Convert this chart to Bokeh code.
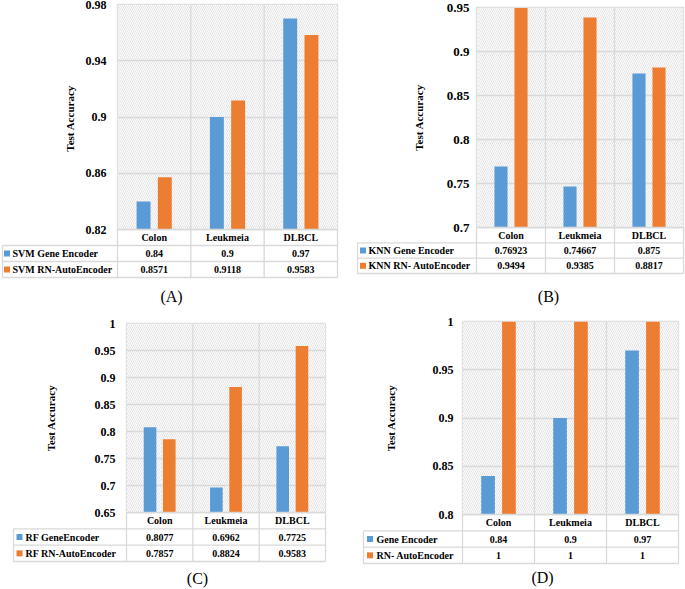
from bokeh.plotting import figure
from bokeh.models import (Range1d, CustomJSTickFormatter, Span,
                          BoxAnnotation, ColumnDataSource)
from bokeh.layouts import row, column
from bokeh.embed import file_html
from bokeh.resources import INLINE
from bokeh.core.properties import value

# ---------------- data ----------------
categories = ["Colon", "Leukmeia", "DLBCL"]

svm_names = ["SVM Gene Encoder", "SVM RN-AutoEncoder"]
svm_gene = [0.84, 0.9, 0.97]
svm_rn = [0.8571, 0.9118, 0.9583]
svm_ticks = [0.82, 0.86, 0.9, 0.94, 0.98]

knn_names = ["KNN Gene Encoder", "KNN RN- AutoEncoder"]
knn_gene = [0.76923, 0.74667, 0.875]
knn_rn = [0.9494, 0.9385, 0.8817]
knn_ticks = [0.7, 0.75, 0.8, 0.85, 0.9, 0.95]

rf_names = ["RF GeneEncoder", "RF RN-AutoEncoder"]
rf_gene = [0.8077, 0.6962, 0.7725]
rf_rn = [0.7857, 0.8824, 0.9583]
rf_ticks = [0.65, 0.7, 0.75, 0.8, 0.85, 0.9, 0.95, 1]

all_names = ["Gene Encoder", "RN- AutoEncoder"]
all_gene = [0.84, 0.9, 0.97]
all_rn = [1, 1, 1]
all_ticks = [0.8, 0.85, 0.9, 0.95, 1]

panel_tags = ["(A)", "(B)", "(C)", "(D)"]
y_titles = ["Test  Accuracy", "Test Accuracy", "Test Accuracy", "Test Accuracy"]

# ---------------- style / layout (pixel geometry) ----------------
BLUE = "#5B9BD5"
ORANGE = "#ED7D31"
GRID = "#D9D9D9"
FONT = "Liberation Serif"
BAR_W = 0.19
BAR_OFF = 0.145

layouts = [
    dict(col=(0, 343), band=(0, 310), tl=2, L=117, R=337, T=4, B=229, TB=277,
         keyx=6.5, textx=12, tagx=171, tagy=296, tstand=7, lstand=11, fs="12px"),
    dict(col=(343, 685), band=(0, 310), tl=357, L=476, R=683, T=7, B=227, TB=273,
         keyx=362.5, textx=368, tagx=548, tagy=296, tstand=19, lstand=7, fs="13px"),
    dict(col=(0, 343), band=(310, 589), tl=13, L=126, R=325, T=323, B=512, TB=561,
         keyx=19, textx=25, tagx=197, tagy=578, tstand=35, lstand=11, fs="12px"),
    dict(col=(343, 685), band=(310, 589), tl=363, L=462, R=678, T=321, B=514, TB=563,
         keyx=369.5, textx=376, tagx=542, tagy=577, tstand=33, lstand=9, fs="12px"),
]


def make_panel(names, gene, rn, ticks, ytitle, tag, lay):
    c0, c1 = lay["col"]
    r0, r1 = lay["band"]
    W = c1 - c0
    H = r1 - r0
    ymin, ymax = ticks[0], ticks[-1]
    n = len(categories)

    p = figure(width=W, height=H, x_range=Range1d(0, n),
               y_range=Range1d(ymin, ymax), output_backend="svg",
               toolbar_location=None, x_axis_location=None,
               min_border_left=lay["L"] - c0, min_border_right=c1 - lay["R"],
               min_border_top=lay["T"] - r0, min_border_bottom=r1 - lay["B"])
    p.outline_line_color = GRID
    p.outline_line_width = 1.3
    p.background_fill_color = "white"
    p.xgrid.visible = False
    p.ygrid.grid_line_color = GRID
    p.ygrid.grid_line_width = 1.3

    p.add_layout(BoxAnnotation(fill_color="white", fill_alpha=1.0,
                               hatch_pattern="\\", hatch_color="#CFCFCF",
                               hatch_weight=0.6, hatch_scale=4,
                               line_color=None, level="image"))
    for b in range(1, n):
        p.add_layout(Span(location=b, dimension="height", line_color=GRID,
                          line_width=1.3, level="underlay"))

    centers = [i + 0.5 for i in range(n)]
    src = ColumnDataSource(dict(
        cat=categories, c=centers,
        xg=[c - BAR_OFF for c in centers], xr=[c + BAR_OFF for c in centers],
        gene=gene, rn=rn))
    p.vbar(x="xg", top="gene", bottom=ymin, width=BAR_W, source=src,
           fill_color=BLUE, line_color=None)
    p.vbar(x="xr", top="rn", bottom=ymin, width=BAR_W, source=src,
           fill_color=ORANGE, line_color=None)

    ax = p.yaxis[0]
    ax.ticker = ticks
    ax.formatter = CustomJSTickFormatter(code="return String(parseFloat(tick.toFixed(2)));")
    ax.axis_label = ytitle
    ax.axis_label_text_font = FONT
    ax.axis_label_text_font_style = "bold"
    ax.axis_label_text_font_size = "11px"
    ax.axis_label_text_color = "black"
    ax.axis_label_standoff = lay["tstand"]
    ax.major_label_text_font = FONT
    ax.major_label_text_font_style = "bold"
    ax.major_label_text_font_size = lay["fs"]
    ax.major_label_text_color = "black"
    ax.major_label_standoff = lay["lstand"]
    ax.axis_line_color = None
    ax.major_tick_line_color = None
    ax.minor_tick_line_color = None
    ax.major_tick_out = 0
    ax.major_tick_in = 0

    # ---------- data table below the frame (unclipped annotation level) ----------
    ux = float(n) / (lay["R"] - lay["L"])

    def xd(px):
        return (px - lay["L"]) * ux

    rowh = (lay["TB"] - lay["B"]) / 3.0

    def yd(py):
        return -(py - lay["B"]) / rowh

    p.extra_y_ranges = {"tab": Range1d(0, (lay["B"] - lay["T"]) / rowh)}
    tab = dict(y_range_name="tab", level="annotation")

    tl = xd(lay["tl"])
    hx0 = [0, tl, tl, tl]
    hx1 = [n, n, n, n]
    hy = [0, -1, -2, -3]
    p.segment(x0=hx0, y0=hy, x1=hx1, y1=hy, line_color=GRID, line_width=1.3, **tab)
    vx = [tl] + list(range(n + 1))
    vy0 = [-1] + [0] * (n + 1)
    vy1 = [-3] * (n + 2)
    p.segment(x0=vx, y0=vy0, x1=vx, y1=vy1, line_color=GRID, line_width=1.3, **tab)

    common = dict(text_font=value(FONT), text_font_style="bold",
                  text_font_size="10px", text_color="black",
                  text_baseline="middle")
    cat_src = ColumnDataSource(dict(
        c=centers, cat=categories,
        g=[f"{v:g}" for v in gene],
        r=[f"{v:g}" for v in rn],
        y0=[-0.5] * n, y1=[-1.5] * n, y2=[-2.5] * n))
    p.text(x="c", y="y0", text="cat", text_align="center", source=cat_src,
           **common, **tab)
    p.text(x="c", y="y1", text="g", text_align="center", source=cat_src,
           **common, **tab)
    p.text(x="c", y="y2", text="r", text_align="center", source=cat_src,
           **common, **tab)

    # legend keys (short thick segments, drawn outside the frame)
    kx0 = xd(lay["keyx"] - 3)
    kx1 = xd(lay["keyx"] + 3)
    p.segment(x0=[kx0, kx0], y0=[-1.5, -2.5], x1=[kx1, kx1], y1=[-1.5, -2.5],
              line_color=[BLUE, ORANGE], line_width=6, line_cap="butt", **tab)
    p.text(x=[xd(lay["textx"])] * 2, y=[-1.5, -2.5], text=names,
           text_align="left", **common, **tab)
    p.text(x=[xd(lay["tagx"])], y=[yd(lay["tagy"])], text=[tag],
           text_align="center", text_baseline="middle", text_font=value(FONT),
           text_font_size="16px", text_color="black", **tab)

    return column(p, spacing=0)


pa = make_panel(svm_names, svm_gene, svm_rn, svm_ticks, y_titles[0], panel_tags[0], layouts[0])
pb = make_panel(knn_names, knn_gene, knn_rn, knn_ticks, y_titles[1], panel_tags[1], layouts[1])
pc = make_panel(rf_names, rf_gene, rf_rn, rf_ticks, y_titles[2], panel_tags[2], layouts[2])
pd_ = make_panel(all_names, all_gene, all_rn, all_ticks, y_titles[3], panel_tags[3], layouts[3])

page = column(row(pa, pb, spacing=0), row(pc, pd_, spacing=0), spacing=0)

with open("out.html", "w") as f:
    f.write(file_html(page, INLINE))
